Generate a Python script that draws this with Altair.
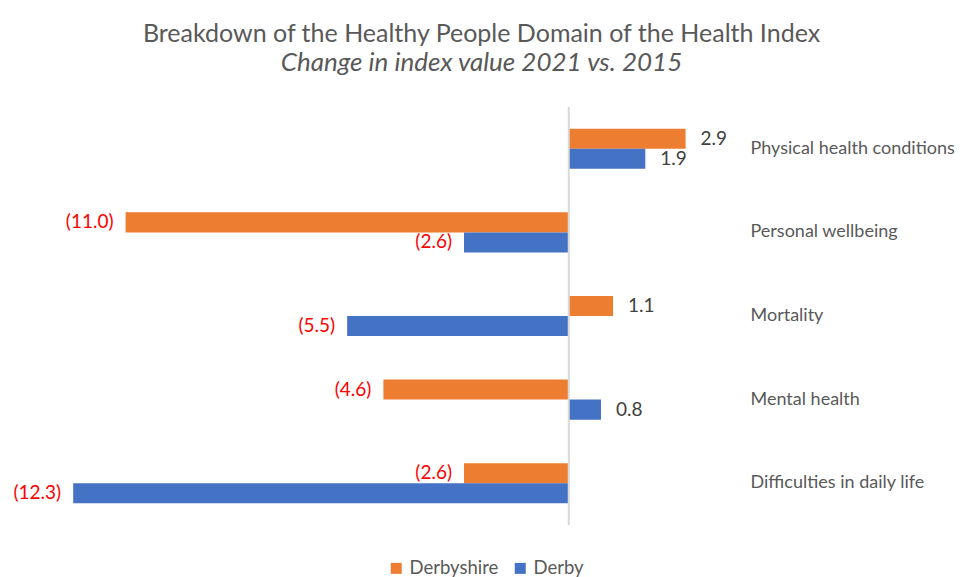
import altair as alt
import pandas as pd

categories = ["Physical health conditions", "Personal wellbeing", "Mortality",
              "Mental health", "Difficulties in daily life"]
series = ["Derbyshire", "Derby"]
derbyshire = [2.9, -11.0, 1.1, -4.6, -2.6]
derby = [1.9, -2.6, -5.5, 0.8, -12.3]
colors = ["#ED7D31", "#4472C4"]

rows = []
for c, a, b in zip(categories, derbyshire, derby):
    rows.append({"category": c, "series": "Derbyshire", "value": a})
    rows.append({"category": c, "series": "Derby", "value": b})
df = pd.DataFrame(rows)
df["label"] = df["value"].apply(lambda v: f"{v:.1f}" if v >= 0 else f"({abs(v):.1f})")

FONT = "Lato"
GREY = "#595959"
FS = 19

xscale = alt.Scale(domain=[-13, 4.3], nice=False, zero=False)
x = alt.X("value:Q", scale=xscale, axis=None)
y = alt.Y("category:N", sort=categories,
          scale=alt.Scale(paddingInner=0.52, paddingOuter=0.26),
          axis=alt.Axis(orient="right", title=None, domain=False, ticks=False,
                        labelPadding=8, labelFontSize=18, labelColor=GREY,
                        labelFont=FONT, labelAlign="left", labelLimit=0, grid=False))
yoff = alt.YOffset("series:N", sort=series,
                   scale=alt.Scale(domain=series, paddingInner=0, paddingOuter=0))
color = alt.Color("series:N", sort=series,
                  scale=alt.Scale(domain=series, range=colors),
                  legend=alt.Legend(orient="none", legendX=342, legendY=452,
                                    direction="horizontal", title=None,
                                    symbolType="square", symbolSize=121,
                                    symbolStrokeWidth=0, labelFontSize=18.5,
                                    labelColor=GREY, labelFont=FONT,
                                    columnPadding=12, labelOffset=4))

base = alt.Chart(df)
bars = base.mark_bar().encode(x=x, y=y, yOffset=yoff, color=color)
pos = base.transform_filter("datum.value >= 0").mark_text(
    align="left", baseline="middle", dx=15, fontSize=FS, font=FONT, color="#404040"
).encode(x=x, y=y, yOffset=yoff, text="label:N")
neg = base.transform_filter("datum.value < 0").mark_text(
    align="right", baseline="middle", dx=-12, fontSize=FS, font=FONT, color="#FF0000"
).encode(x=x, y=y, yOffset=yoff, text="label:N")
rule = alt.Chart(pd.DataFrame({"z": [0]})).mark_rule(
    color="#D9D9D9", strokeWidth=2
).encode(x=alt.X("z:Q", scale=xscale, axis=None))

chart = alt.layer(bars, pos, neg, rule).properties(
    width=697, height=418,
    autosize=alt.AutoSizeParams(type="none"),
    padding={"left": 37, "top": 99, "right": 216, "bottom": 52},
    title=alt.TitleParams(
        text="Breakdown of the Healthy People Domain of the Health Index",
        subtitle="Change in index value 2021 vs. 2015",
        fontSize=25, subtitleFontSize=26, subtitleFontStyle="italic",
        font=FONT, subtitleFont=FONT, color=GREY, subtitleColor=GREY,
        fontWeight="normal", anchor="middle", dx=88, offset=30, subtitlePadding=3),
).configure_view(stroke=None)

chart.save("out.html", embed_options={"renderer": "svg", "actions": False})
